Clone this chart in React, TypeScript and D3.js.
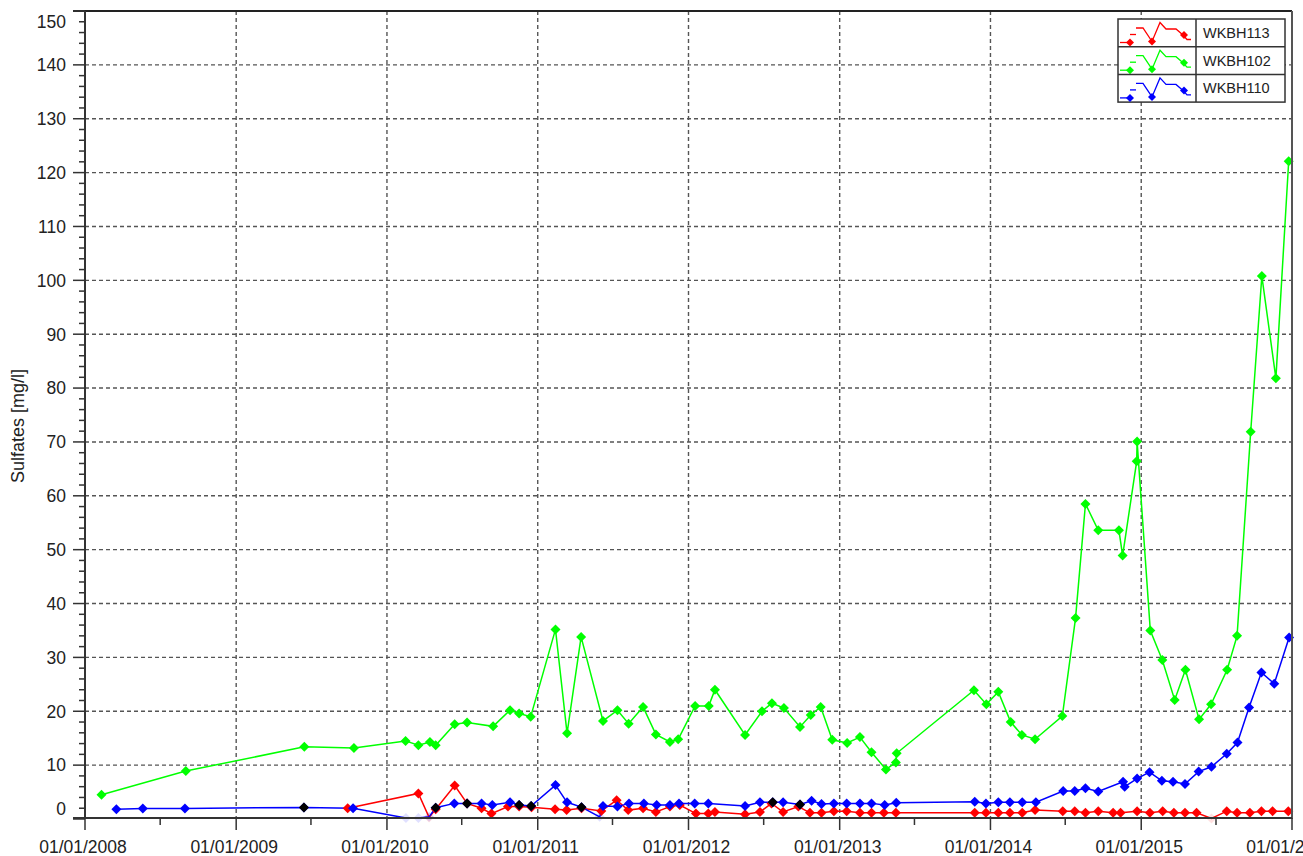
import React from 'react';
import * as d3 from 'd3';

// sampling dates and sulfate values [mg/l] per borehole
const wkbh113: [string, number][] = [
  ['2009-09-28', 2.0], ['2010-03-18', 4.75], ['2010-04-13', 0.3], ['2010-04-29', 1.8],
  ['2010-06-14', 6.2], ['2010-07-14', 2.9], ['2010-08-18', 2.0], ['2010-09-11', 1.0],
  ['2010-10-21', 2.3], ['2010-11-17', 2.3], ['2010-12-17', 2.2], ['2011-02-12', 1.8],
  ['2011-03-12', 1.65], ['2011-04-17', 2.0], ['2011-06-04', 1.5], ['2011-07-11', 3.5],
  ['2011-08-08', 1.65], ['2011-09-13', 2.0], ['2011-10-14', 1.3], ['2011-11-17', 2.3],
  ['2011-12-11', 2.6], ['2012-01-19', 1.0], ['2012-02-18', 1.0], ['2012-03-05', 1.3],
  ['2012-05-17', 0.9], ['2012-06-22', 1.3], ['2012-07-20', 2.9], ['2012-08-17', 1.3],
  ['2012-09-23', 2.3], ['2012-10-21', 1.15], ['2012-11-18', 1.15], ['2012-12-18', 1.45],
  ['2013-01-18', 1.45], ['2013-02-19', 1.15], ['2013-03-19', 1.15], ['2013-04-18', 1.15],
  ['2013-05-17', 1.15], ['2013-11-24', 1.15], ['2013-12-21', 1.15], ['2014-01-20', 1.15],
  ['2014-02-17', 1.15], ['2014-03-19', 1.15], ['2014-04-19', 1.65], ['2014-06-25', 1.45],
  ['2014-07-24', 1.45], ['2014-08-19', 1.15], ['2014-09-19', 1.45], ['2014-10-25', 1.15],
  ['2014-11-12', 1.15], ['2014-12-22', 1.45], ['2015-01-22', 1.15], ['2015-02-22', 1.45],
  ['2015-03-21', 1.15], ['2015-04-17', 1.15], ['2015-05-15', 1.15], ['2015-06-20', 0.1],
  ['2015-07-27', 1.45], ['2015-08-21', 1.15], ['2015-09-21', 1.15], ['2015-10-19', 1.45],
  ['2015-11-15', 1.45], ['2015-12-23', 1.45],
];

const wkbh102: [string, number][] = [
  ['2008-02-10', 4.5], ['2008-09-01', 8.9], ['2009-06-15', 13.4], ['2009-10-13', 13.2],
  ['2010-02-15', 14.5], ['2010-03-18', 13.7], ['2010-04-15', 14.3], ['2010-04-29', 13.7],
  ['2010-06-14', 17.6], ['2010-07-14', 17.9], ['2010-09-15', 17.2], ['2010-10-26', 20.2],
  ['2010-11-17', 19.6], ['2010-12-15', 19.0], ['2011-02-13', 35.2], ['2011-03-13', 15.9],
  ['2011-04-16', 33.8], ['2011-06-08', 18.2], ['2011-07-13', 20.2], ['2011-08-09', 17.7],
  ['2011-09-13', 20.8], ['2011-10-14', 15.7], ['2011-11-17', 14.3], ['2011-12-07', 14.8],
  ['2012-01-17', 21.0], ['2012-02-19', 21.0], ['2012-03-05', 24.0], ['2012-05-17', 15.6],
  ['2012-06-27', 20.0], ['2012-07-21', 21.5], ['2012-08-19', 20.6], ['2012-09-27', 17.1],
  ['2012-10-23', 19.3], ['2012-11-16', 20.8], ['2012-12-14', 14.7], ['2013-01-19', 14.1],
  ['2013-02-19', 15.2], ['2013-03-19', 12.4], ['2013-04-23', 9.2], ['2013-05-17', 10.5],
  ['2013-05-19', 12.2], ['2013-11-22', 23.9], ['2013-12-22', 21.3], ['2014-01-20', 23.6],
  ['2014-02-19', 18.0], ['2014-03-18', 15.6], ['2014-04-19', 14.8], ['2014-06-24', 19.1],
  ['2014-07-26', 37.3], ['2014-08-19', 58.5], ['2014-09-19', 53.6], ['2014-11-08', 53.6],
  ['2014-11-17', 48.9], ['2014-12-21', 66.4], ['2014-12-22', 70.1], ['2015-01-23', 35.0],
  ['2015-02-21', 29.5], ['2015-03-23', 22.1], ['2015-04-18', 27.7], ['2015-05-21', 18.5],
  ['2015-06-19', 21.3], ['2015-07-28', 27.7], ['2015-08-21', 34.0], ['2015-09-23', 71.9],
  ['2015-10-20', 100.8], ['2015-11-23', 81.8], ['2015-12-24', 122.1],
];

const wkbh110: [string, number][] = [
  ['2008-03-17', 1.8], ['2008-05-20', 1.95], ['2008-08-30', 1.95], ['2009-06-14', 2.15],
  ['2009-10-11', 2.0], ['2010-02-16', 0.2], ['2010-03-18', 0.2], ['2010-04-13', 0.4],
  ['2010-04-29', 2.1], ['2010-06-13', 2.9], ['2010-07-14', 2.9], ['2010-08-18', 2.9],
  ['2010-09-13', 2.6], ['2010-10-26', 3.1], ['2010-11-17', 2.6], ['2010-12-16', 2.4],
  ['2011-02-13', 6.3], ['2011-03-13', 3.1], ['2011-04-17', 2.2], ['2011-05-31', 0.4],
  ['2011-06-08', 2.4], ['2011-07-13', 2.3], ['2011-08-10', 2.9], ['2011-09-15', 2.9],
  ['2011-10-16', 2.6], ['2011-11-17', 2.6], ['2011-12-09', 2.9], ['2012-01-16', 2.9],
  ['2012-02-18', 2.9], ['2012-05-17', 2.4], ['2012-06-22', 3.1], ['2012-07-23', 3.1],
  ['2012-08-17', 3.1], ['2012-09-27', 2.7], ['2012-10-25', 3.4], ['2012-11-18', 2.8],
  ['2012-12-18', 2.9], ['2013-01-18', 2.9], ['2013-02-19', 2.9], ['2013-03-19', 2.9],
  ['2013-04-20', 2.6], ['2013-05-18', 3.0], ['2013-11-24', 3.2], ['2013-12-21', 2.9],
  ['2014-01-20', 3.1], ['2014-02-17', 3.1], ['2014-03-19', 3.1], ['2014-04-21', 3.1],
  ['2014-06-26', 5.2], ['2014-07-24', 5.2], ['2014-08-19', 5.7], ['2014-09-19', 5.1],
  ['2014-11-18', 6.9], ['2014-11-22', 6.0], ['2014-12-22', 7.5], ['2015-01-21', 8.7],
  ['2015-02-20', 7.1], ['2015-03-19', 6.9], ['2015-04-17', 6.5], ['2015-05-20', 8.8],
  ['2015-06-20', 9.7], ['2015-07-27', 12.1], ['2015-08-22', 14.2], ['2015-09-19', 20.7],
  ['2015-10-19', 27.2], ['2015-11-19', 25.1], ['2015-12-25', 33.7],
];

// WKBH110 samples whose marker is drawn black in the original
const flagged110 = ['2009-06-14', '2010-04-29', '2010-07-14', '2010-11-17', '2010-12-16',
  '2011-04-17', '2012-07-23', '2012-09-27'];

const seriesNames = ['WKBH113', 'WKBH102', 'WKBH110'];
const seriesColors = ['#ff0000', '#00ff00', '#0000ff'];
const yTicks = d3.range(0, 151, 10);
const yMinor = d3.range(0, 151, 2);
const xStart = '2008-01-01';
const xEnd = '2016-01-01';

const W = 1303, H = 856;
const m = { left: 85, right: 1292, top: 11, bottom: 819 };
const font = '"Liberation Sans", Arial, sans-serif';

const parse = d3.utcParse('%Y-%m-%d');
const fmt = d3.utcFormat('%d/%m/%Y');

function diamond(cx: number, cy: number, r = 5) {
  return `M${cx},${cy - r}L${cx + r},${cy}L${cx},${cy + r}L${cx - r},${cy}Z`;
}

export default function App() {
  const x = d3.scaleUtc().domain([parse(xStart)!, parse(xEnd)!]).range([m.left, m.right]);
  const y = d3.scaleLinear().domain([0, 150]).range([m.bottom, m.top]);

  const all = [wkbh113, wkbh102, wkbh110].map(s => s.map(([d, v]) => ({ d: parse(d)!, v, key: d })));
  const line = d3.line<{ d: Date; v: number }>().x(p => x(p.d)).y(p => y(p.v));

  const years = x.ticks(d3.utcYear.every(1)!);
  const midYears = d3.utcMonth.every(6)!.range(parse(xStart)!, parse(xEnd)!).filter(d => d.getUTCMonth() === 6);

  // legend box
  const lg = { x: 1118, y: 19, w: 167, rowH: 27.7, split: 78 };
  const iconPts: [number, number][][] = [
    [[2, 23.5], [11, 23.5]],
    [[12, 15.5], [18, 15.5]],
    [[18, 9], [25, 9], [34, 22.5], [42, 3.5], [48, 10], [58, 10], [65, 16], [69, 20.5], [73, 20.5]],
  ];
  const iconMarks: [number, number][] = [[12, 23.5], [34, 22.5], [66, 16]];

  return (
    <svg width={W} height={H} style={{ position: 'absolute', left: 0, top: 0, background: '#fff' }}
      fontFamily={font}>
      {/* grid */}
      <g stroke="#555" strokeWidth={1.4} strokeDasharray="4,3">
        {yTicks.filter(t => t > 0 && t < 150).map(t => (
          <line key={'gy' + t} x1={m.left} x2={m.right} y1={y(t)} y2={y(t)} />
        ))}
        {years.slice(1, -1).map(t => (
          <line key={'gx' + t.getTime()} x1={x(t)} x2={x(t)} y1={m.top} y2={m.bottom} />
        ))}
      </g>

      {/* series lines */}
      {all.map((s, i) => (
        <path key={'l' + i} d={line(s) || ''} fill="none" stroke={seriesColors[i]} strokeWidth={1.5} />
      ))}
      {/* markers */}
      {all.map((s, i) => (
        <g key={'m' + i} fill={seriesColors[i]}>
          {s.map((p, j) => (
            <path key={j} d={diamond(x(p.d), y(p.v))} fillOpacity={p.v < 0.5 ? 0.12 : 1} />
          ))}
        </g>
      ))}
      <g fill="#000">
        {all[2].filter(p => flagged110.includes(p.key)).map(p => (
          <path key={'b' + p.key} d={diamond(x(p.d), y(p.v))} />
        ))}
      </g>

      {/* frame */}
      <line x1={73} x2={m.right} y1={m.top} y2={m.top} stroke="#222" strokeWidth={2} />
      <line x1={m.right} x2={m.right} y1={m.top} y2={m.bottom} stroke="#555" strokeWidth={2} />
      <line x1={m.left} x2={m.left} y1={m.top} y2={m.bottom} stroke="#333" strokeWidth={2} />
      <line x1={73} x2={m.right} y1={m.bottom - 1} y2={m.bottom - 1} stroke="#333" strokeWidth={2} />

      {/* y ticks */}
      <g stroke="#333" strokeWidth={1.5}>
        {yMinor.map(t => {
          const major = t % 10 === 0;
          return <line key={'yt' + t} x1={major ? 73 : 79} x2={m.left} y1={y(t)} y2={y(t)} />;
        })}
      </g>
      <g fontSize={17.5} fill="#222" textAnchor="end">
        {yTicks.map(t => {
          // end labels sit one minor step inside the frame
          const shift = t === 0 ? 2 : t === 150 ? -2 : 0;
          return (
            <text key={'yl' + t} x={66} y={y(t + shift)} dy="0.36em">{t}</text>
          );
        })}
      </g>
      <text transform={`translate(24,426) rotate(-90)`} textAnchor="middle"
        fontSize={18} fill="#222">Sulfates [mg/l]</text>

      {/* x ticks */}
      <g stroke="#333" strokeWidth={1.5}>
        {years.map(t => (
          <line key={'xt' + t.getTime()} x1={x(t)} x2={x(t)} y1={m.bottom - 1} y2={830} />
        ))}
        {midYears.map(t => (
          <line key={'xm' + t.getTime()} x1={x(t)} x2={x(t)} y1={m.bottom - 1} y2={825} />
        ))}
      </g>
      <g fontSize={17.5} fill="#222" textAnchor="middle">
        {years.map(t => (
          <text key={'xl' + t.getTime()} x={x(t) - 2} y={853}>{fmt(t)}</text>
        ))}
      </g>

      {/* legend */}
      <g transform={`translate(${lg.x},${lg.y})`}>
        <rect width={lg.w} height={lg.rowH * 3} fill="#fff" stroke="#333" strokeWidth={1.5} />
        <line x1={lg.split} x2={lg.split} y1={0} y2={lg.rowH * 3} stroke="#333" strokeWidth={1.5} />
        {seriesNames.map((n, i) => (
          <g key={n} transform={`translate(0,${i * lg.rowH})`}>
            {i > 0 && <line x1={0} x2={lg.w} y1={0} y2={0} stroke="#333" strokeWidth={1.5} />}
            {iconPts.map((pts, k) => (
              <polyline key={k} points={pts.map(p => p.join(',')).join(' ')} fill="none"
                stroke={seriesColors[i]} strokeWidth={1.3} />
            ))}
            {iconMarks.map((p, k) => (
              <path key={'im' + k} d={diamond(p[0], p[1], 4)} fill={seriesColors[i]} />
            ))}
            <text x={85} y={lg.rowH / 2} dy="0.36em" fontSize={14.5} fill="#222">{n}</text>
          </g>
        ))}
      </g>
    </svg>
  );
}
